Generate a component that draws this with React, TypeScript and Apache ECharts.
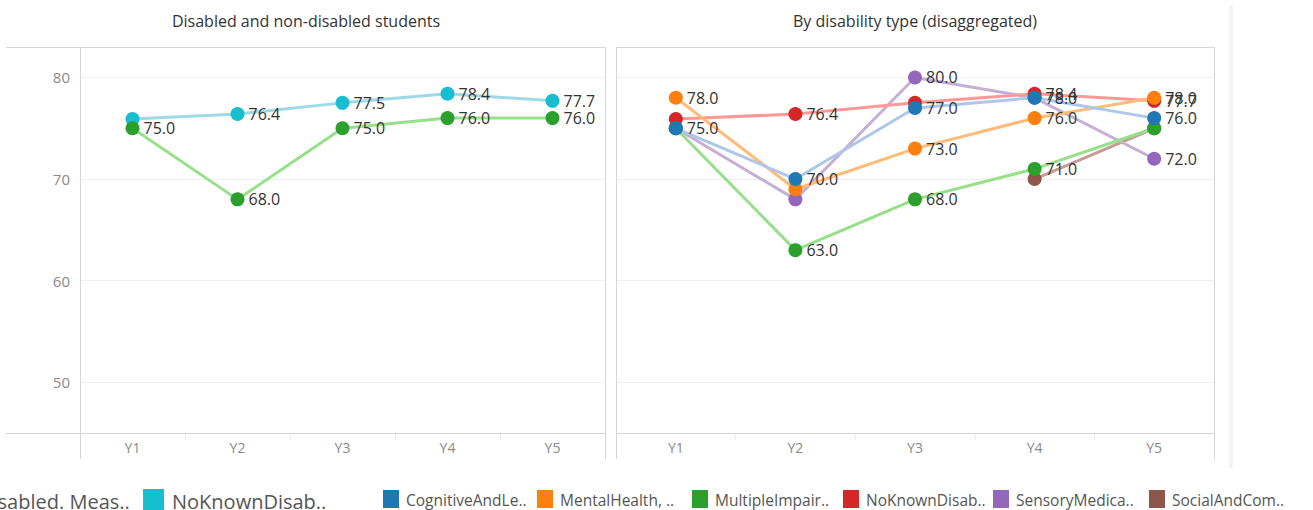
import React, { useEffect, useRef } from "react";
import * as echarts from "echarts";

// ---------- data ----------
const years = ["Y1", "Y2", "Y3", "Y4", "Y5"];

// Left panel: Disabled and non-disabled students
const leftNoKnown = [75.9, 76.4, 77.5, 78.4, 77.7];
const leftNoKnownLabels = [false, true, true, true, true];
const leftDisabled = [75.0, 68.0, 75.0, 76.0, 76.0];
const leftDisabledLabels = [true, true, true, true, true];

// Right panel: By disability type (disaggregated)
const cognitive = [75.0, 70.0, 77.0, 78.0, 76.0];
const cognitiveLabels = [true, true, true, true, true];
const mental = [78.0, 69.0, 73.0, 76.0, 78.0];
const mentalLabels = [true, false, true, true, true];
const multiple = [75.0, 63.0, 68.0, 71.0, 75.0];
const multipleLabels = [false, true, true, true, false];
const noKnown = [75.9, 76.4, 77.5, 78.4, 77.7];
const noKnownLabels = [false, true, false, true, true];
const sensory = [75.0, 68.0, 80.0, 78.0, 72.0];
const sensoryLabels = [false, false, true, false, true];
const social = [null, null, null, 70.0, 75.0];
const socialLabels = [false, false, false, false, false];

const leftLegendNames = ["Disabled. Meas..", "NoKnownDisab.."];
const rightLegendNames = [
  "CognitiveAndLe..",
  "MentalHealth, ..",
  "MultipleImpair..",
  "NoKnownDisab..",
  "SensoryMedica..",
  "SocialAndCom..",
];
const panelTitles = ["Disabled and non-disabled students", "By disability type (disaggregated)"];

// ---------- styling ----------
const FONT = "'Open Sans', sans-serif";
const C = {
  blue: ["#1f77b4", "#aec7e8"],
  orange: ["#ff7f0e", "#ffbb78"],
  green: ["#2ca02c", "#98df8a"],
  red: ["#d62728", "#ff9896"],
  purple: ["#9467bd", "#c5b0d5"],
  brown: ["#8c564b", "#c49c94"],
  teal: ["#17becf", "#9edae5"],
};
const FRAME = "#d6d6d6";

function makeSeries(name: string, values: (number | null)[], labels: boolean[], colors: string[], idx: number) {
  const line = {
    type: "line",
    name: name + " line",
    xAxisIndex: idx,
    yAxisIndex: idx,
    data: values,
    showSymbol: false,
    symbol: "none",
    connectNulls: false,
    lineStyle: { color: colors[1], width: 3 },
    z: 2,
    silent: true,
  };
  const marks = {
    type: "line",
    name,
    xAxisIndex: idx,
    yAxisIndex: idx,
    data: values.map((v, i) => ({ value: v, label: { show: labels[i] && v != null } })),
    symbol: "circle",
    symbolSize: 14,
    showSymbol: true,
    lineStyle: { width: 0, opacity: 0 },
    itemStyle: { color: colors[0], opacity: 1 },
    label: {
      position: "right",
      distance: 4,
      fontSize: 16,
      color: "#333",
      fontFamily: FONT,
      formatter: (p: any) => Number(p.value).toFixed(1),
    },
    z: 3,
  };
  return { line, marks };
}

export default function App() {
  const ref = useRef<HTMLDivElement>(null);
  useEffect(() => {
    document.body.style.margin = "0";
    if (!ref.current) return;
    const chart = echarts.init(ref.current, undefined, { renderer: "svg" });

    const leftSets = [
      makeSeries("NoKnownDisability", leftNoKnown, leftNoKnownLabels, C.teal, 0),
      makeSeries("Disabled", leftDisabled, leftDisabledLabels, C.green, 0),
    ];
    // drawing order: last drawn on top
    const rightSets = [
      makeSeries("SocialAndCommunication", social, socialLabels, C.brown, 1),
      makeSeries("SensoryMedical", sensory, sensoryLabels, C.purple, 1),
      makeSeries("NoKnownDisability ", noKnown, noKnownLabels, C.red, 1),
      makeSeries("MultipleImpairments", multiple, multipleLabels, C.green, 1),
      makeSeries("MentalHealth", mental, mentalLabels, C.orange, 1),
      makeSeries("CognitiveAndLearning", cognitive, cognitiveLabels, C.blue, 1),
    ];
    const allSets = [...leftSets, ...rightSets];
    const series = [...allSets.map((s) => s.line), ...allSets.map((s) => s.marks)];

    const xAxisBase = (idx: number) => ({
      type: "category",
      gridIndex: idx,
      data: years,
      boundaryGap: true,
      axisLine: { show: false },
      axisTick: { show: true, length: 7, lineStyle: { color: "#efefef" } },
      axisLabel: { color: "#8a8a8a", fontSize: 14, fontFamily: FONT, margin: 7 },
      splitLine: { show: false },
    });
    const yAxisBase = (idx: number) => ({
      type: "value",
      gridIndex: idx,
      min: 45,
      max: 83,
      splitNumber: 4,
      axisLine: { show: false },
      axisTick: { show: false },
      axisLabel: {
        show: idx === 0,
        showMinLabel: false,
        showMaxLabel: false,
        color: "#8a8a8a",
        fontSize: 15,
        fontFamily: FONT,
        margin: 10,
        formatter: (v: number) => (v % 10 === 0 ? String(v) : ""),
      },
      splitLine: { show: true, lineStyle: { color: "#f0f0f0", width: 1 } },
    });

    const vline = (x: number, y1: number, y2: number, color = FRAME) => ({
      type: "line",
      shape: { x1: x, y1, x2: x, y2 },
      style: { stroke: color, lineWidth: 1 },
      z: 10,
      silent: true,
    });
    const hline = (y: number, x1: number, x2: number, color = FRAME) => ({
      type: "line",
      shape: { x1, y1: y, x2, y2: y },
      style: { stroke: color, lineWidth: 1 },
      z: 10,
      silent: true,
    });

    const legendColorsRight = [C.blue[0], C.orange[0], C.green[0], C.red[0], C.purple[0], C.brown[0]];
    const rightLegendX = [383, 537, 692, 843, 993, 1149];
    const graphics: any[] = [
      // titles
      {
        type: "text",
        x: 306,
        y: 21,
        style: { text: panelTitles[0], fill: "#333", fontSize: 16, fontFamily: FONT, textAlign: "center", textVerticalAlign: "middle" },
      },
      {
        type: "text",
        x: 915,
        y: 21,
        style: { text: panelTitles[1], fill: "#333", fontSize: 16, fontFamily: FONT, textAlign: "center", textVerticalAlign: "middle" },
      },
      // left panel frame
      hline(47.5, 6, 605.5),
      hline(433.5, 6, 605.5),
      vline(80.5, 47, 459),
      vline(605.5, 47, 459),
      // right panel frame
      hline(47.5, 616, 1214.5),
      hline(433.5, 616, 1214.5),
      vline(616.5, 47, 459),
      vline(1214.5, 47, 459),
      // side strip
      { type: "rect", shape: { x: 1229, y: 5, width: 4, height: 463 }, style: { fill: "#f4f4f4" }, silent: true },
      // left legend
      { type: "rect", shape: { x: -54, y: 489, width: 21, height: 21 }, style: { fill: C.green[0] } },
      {
        type: "text",
        x: -22,
        y: 501,
        style: { text: leftLegendNames[0], fill: "#555", fontSize: 20, fontFamily: FONT, textVerticalAlign: "middle" },
      },
      { type: "rect", shape: { x: 143, y: 489, width: 21, height: 21 }, style: { fill: C.teal[0] } },
      {
        type: "text",
        x: 172,
        y: 501,
        style: { text: leftLegendNames[1], fill: "#555", fontSize: 20, fontFamily: FONT, textVerticalAlign: "middle" },
      },
    ];
    rightLegendNames.forEach((n, i) => {
      graphics.push({ type: "rect", shape: { x: rightLegendX[i], y: 490, width: 16, height: 18 }, style: { fill: legendColorsRight[i] } });
      graphics.push({
        type: "text",
        x: rightLegendX[i] + 23,
        y: 500,
        style: { text: n, fill: "#555", fontSize: 15.5, fontFamily: FONT, textVerticalAlign: "middle" },
      });
    });

    chart.setOption({
      animation: false,
      backgroundColor: "#ffffff",
      grid: [
        { left: 80, right: 1313 - 605, top: 47, bottom: 510 - 433, containLabel: false },
        { left: 616, right: 1313 - 1214, top: 47, bottom: 510 - 433, containLabel: false },
      ],
      xAxis: [xAxisBase(0), xAxisBase(1)],
      yAxis: [yAxisBase(0), yAxisBase(1)],
      series,
      graphic: graphics,
    });
    return () => chart.dispose();
  }, []);
  return <div ref={ref} style={{ width: 1313, height: 510 }} />;
}
